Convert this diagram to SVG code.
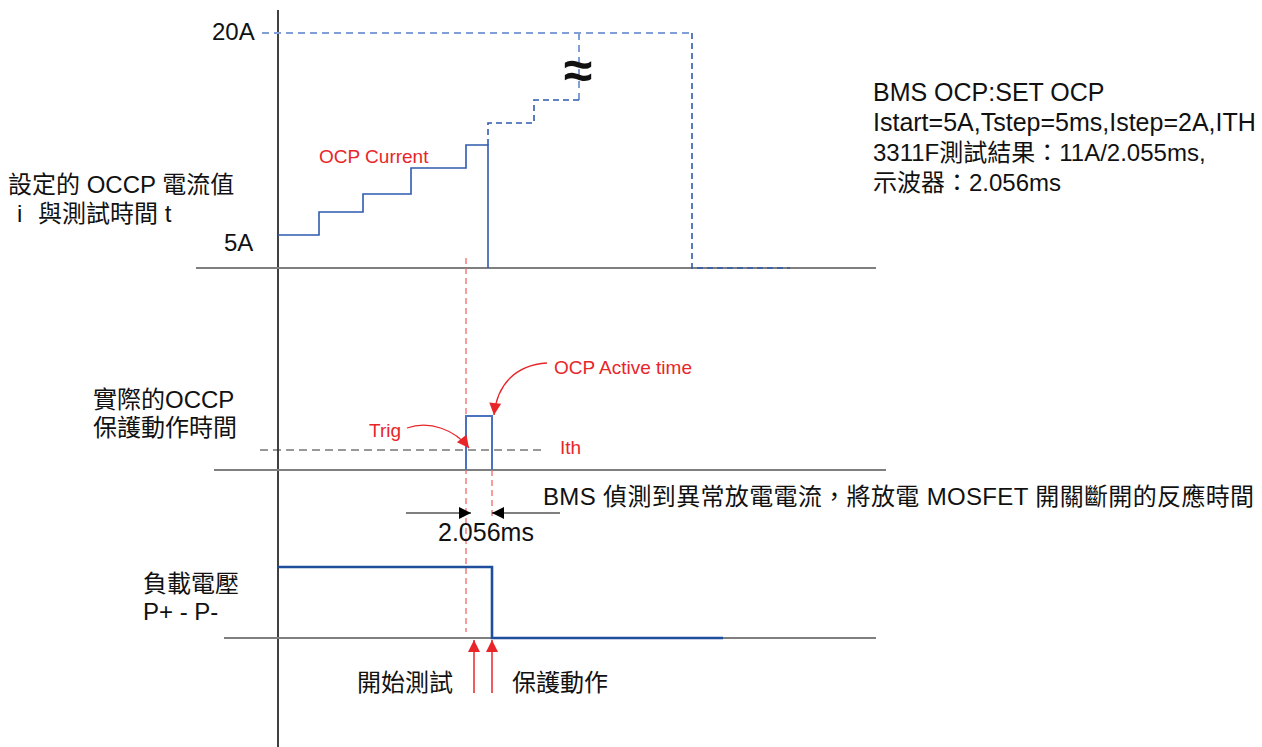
<svg xmlns="http://www.w3.org/2000/svg" width="1262" height="747" viewBox="0 0 1262 747">
<style>
text{font-family:"Liberation Sans","Noto Sans CJK TC",Arial,sans-serif;fill:#111}
.t24{font-size:24px}
.t25{font-size:25px}
.red{fill:#E8262A;font-size:19px}
.axis{stroke:#7F7F7F;stroke-width:2;fill:none}
.blue{stroke:#2F5BAF;stroke-width:1.6;fill:none}
.bdash{stroke:#2F5BAF;stroke-width:1.6;fill:none;stroke-dasharray:6 4}
.ldash{stroke:#7F9FD6;stroke-width:2;fill:none;stroke-dasharray:7 5}
.rdash{stroke:#F06868;stroke-width:1.3;fill:none;stroke-dasharray:6 4}
</style>
<defs>
<marker id="ab" viewBox="0 0 10 10" refX="10" refY="5" markerWidth="17" markerHeight="12" markerUnits="userSpaceOnUse" orient="auto"><path d="M0,0L10,5L0,10z" fill="#000"/></marker>
<marker id="ar" viewBox="0 0 10 10" refX="10" refY="5" markerWidth="14" markerHeight="12" markerUnits="userSpaceOnUse" orient="auto"><path d="M0,0L10,5L0,10z" fill="#E8262A"/></marker>
</defs>
<rect width="1262" height="747" fill="#fff"/>
<g id="connectors">
<line x1="278" y1="10" x2="278" y2="747" stroke="#000" stroke-width="1.5"/>
<line class="axis" x1="196" y1="268" x2="876" y2="268"/>
<line class="axis" x1="214" y1="470" x2="886" y2="470"/>
<line class="axis" x1="224" y1="638" x2="876" y2="638"/>
<path class="ldash" d="M262,33H692"/>
<path class="ldash" d="M579,33V100"/>
<path class="bdash" d="M692,33V268H790"/>
<path class="blue" d="M278,235H319V212H363V194H411V168H466V145H488V268"/>
<path class="bdash" d="M488,145V123H534V100H579"/>
<path class="rdash" d="M466,258V632"/>
<path class="rdash" d="M492,470V520"/>
<path d="M466,470V416H492V470" stroke="#4A72C0" stroke-width="2" fill="none"/>
<line x1="260" y1="450" x2="542" y2="450" stroke="#333" stroke-width="1.2" stroke-dasharray="8 5"/>
<path d="M278,567H492V638H723" stroke="#1F4E9C" stroke-width="2.6" fill="none"/>
<line x1="406" y1="513" x2="471" y2="513" stroke="#000" stroke-width="1.2" marker-end="url(#ab)"/>
<line x1="560" y1="513" x2="492" y2="513" stroke="#000" stroke-width="1.2" marker-end="url(#ab)"/>
<line x1="474" y1="693" x2="474" y2="640" stroke="#E8262A" stroke-width="1.5" marker-end="url(#ar)"/>
<line x1="492" y1="693" x2="492" y2="640" stroke="#E8262A" stroke-width="1.5" marker-end="url(#ar)"/>
<path d="M407,428C430,420 455,430 469,448" stroke="#E8262A" stroke-width="1.3" fill="none" marker-end="url(#ar)"/>
<path d="M547,363C515,365 497,385 494,415" stroke="#E8262A" stroke-width="1.3" fill="none" marker-end="url(#ar)"/>
</g>
<g id="labels">
<text class="t24" x="212" y="40">20A</text>
<text class="t24" x="224" y="251">5A</text>
<text class="t24" x="8" y="193">設定的 OCCP 電流值</text>
<text class="t24" y="222"><tspan x="17">i</tspan><tspan x="38">與測試時間 t</tspan></text>
<text class="t24" x="93" y="408">實際的OCCP</text>
<text class="t24" x="93" y="436">保護動作時間</text>
<text class="t24" x="143" y="592">負載電壓</text>
<text class="t24" x="143" y="620">P+ - P-</text>
<text class="t24" x="357" y="691">開始測試</text>
<text class="t24" x="512" y="691">保護動作</text>
<text class="t25" x="438" y="541">2.056ms</text>
<text class="t24" x="543" y="505" letter-spacing="0.35">BMS 偵測到異常放電電流，將放電 MOSFET 開關斷開的反應時間</text>
<text class="t25" x="873" y="101">BMS OCP:SET OCP</text>
<text class="t25" x="873" y="131">Istart=5A,Tstep=5ms,Istep=2A,ITH</text>
<text class="t24" x="873" y="161">3311F測試結果：11A/2.055ms,</text>
<text class="t24" x="873" y="191">示波器：2.056ms</text>
<text class="red" x="319" y="163">OCP Current</text>
<text class="red" x="369" y="437">Trig</text>
<text class="red" x="554" y="374">OCP Active time</text>
<text class="red" x="560" y="454">Ith</text>
<text x="578" y="88" font-size="52" font-weight="bold" text-anchor="middle">≈</text>
</g>
</svg>
